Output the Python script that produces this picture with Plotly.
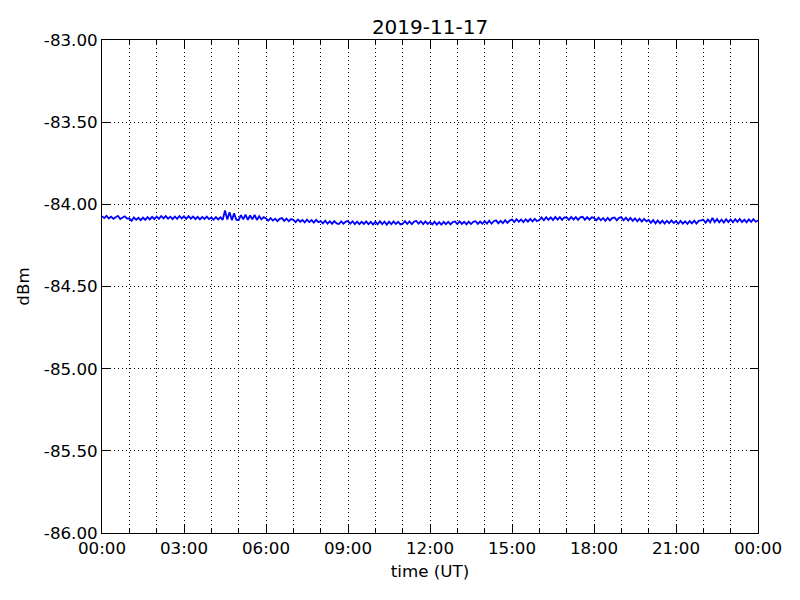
import plotly.graph_objects as go
import pandas as pd

title_text = "2019-11-17"
x_label = "time (UT)"
y_label = "dBm"

# 5-minute samples, one row per hour
hour_rows = [
    [-84.072, -84.084, -84.070, -84.086, -84.075, -84.088, -84.078, -84.070, -84.090, -84.080, -84.073, -84.087],
    [-84.085, -84.100, -84.080, -84.094, -84.082, -84.096, -84.081, -84.095, -84.078, -84.092, -84.076, -84.090],
    [-84.074, -84.088, -84.071, -84.086, -84.072, -84.087, -84.075, -84.090, -84.074, -84.088, -84.071, -84.086],
    [-84.073, -84.088, -84.072, -84.087, -84.074, -84.090, -84.076, -84.092, -84.077, -84.089, -84.075, -84.090],
    [-84.080, -84.093, -84.078, -84.092, -84.079, -84.094, -84.038, -84.092, -84.048, -84.096, -84.055, -84.094],
    [-84.095, -84.066, -84.092, -84.062, -84.094, -84.068, -84.091, -84.064, -84.095, -84.072, -84.092, -84.078],
    [-84.086, -84.100, -84.084, -84.099, -84.087, -84.102, -84.088, -84.084, -84.101, -84.087, -84.103, -84.090],
    [-84.094, -84.108, -84.092, -84.106, -84.095, -84.110, -84.093, -84.108, -84.096, -84.111, -84.095, -84.109],
    [-84.102, -84.116, -84.100, -84.117, -84.103, -84.119, -84.102, -84.116, -84.120, -84.104, -84.118, -84.105],
    [-84.102, -84.118, -84.103, -84.120, -84.105, -84.121, -84.106, -84.119, -84.104, -84.121, -84.107, -84.123],
    [-84.105, -84.122, -84.103, -84.120, -84.105, -84.124, -84.106, -84.121, -84.104, -84.120, -84.106, -84.122],
    [-84.118, -84.102, -84.119, -84.104, -84.121, -84.105, -84.101, -84.118, -84.103, -84.120, -84.104, -84.119],
    [-84.107, -84.122, -84.105, -84.123, -84.108, -84.124, -84.107, -84.121, -84.106, -84.122, -84.108, -84.104],
    [-84.120, -84.104, -84.119, -84.106, -84.122, -84.105, -84.120, -84.107, -84.103, -84.119, -84.105, -84.118],
    [-84.102, -84.117, -84.100, -84.118, -84.103, -84.098, -84.116, -84.100, -84.115, -84.097, -84.113, -84.099],
    [-84.092, -84.108, -84.090, -84.106, -84.092, -84.108, -84.091, -84.105, -84.089, -84.104, -84.088, -84.102],
    [-84.096, -84.080, -84.097, -84.078, -84.094, -84.079, -84.096, -84.077, -84.093, -84.078, -84.095, -84.080],
    [-84.079, -84.094, -84.077, -84.093, -84.078, -84.095, -84.079, -84.076, -84.094, -84.078, -84.093, -84.079],
    [-84.082, -84.098, -84.081, -84.097, -84.083, -84.100, -84.082, -84.098, -84.084, -84.080, -84.097, -84.082],
    [-84.078, -84.097, -84.081, -84.099, -84.083, -84.101, -84.085, -84.103, -84.087, -84.105, -84.088, -84.103],
    [-84.095, -84.113, -84.096, -84.116, -84.098, -84.115, -84.099, -84.117, -84.100, -84.115, -84.098, -84.114],
    [-84.102, -84.118, -84.101, -84.117, -84.103, -84.119, -84.102, -84.116, -84.100, -84.117, -84.101, -84.098],
    [-84.094, -84.112, -84.092, -84.110, -84.082, -84.108, -84.090, -84.109, -84.093, -84.111, -84.091, -84.108],
    [-84.092, -84.109, -84.091, -84.107, -84.089, -84.108, -84.093, -84.110, -84.092, -84.107, -84.090, -84.106],
]
final_value = [-84.099]

y_tick_vals = [-86.0, -85.5, -85.0, -84.5, -84.0, -83.5, -83.0]
y_tick_text = ["-86.00", "-85.50", "-85.00", "-84.50", "-84.00", "-83.50", "-83.00"]

values = [v for row in hour_rows for v in row] + final_value
times = pd.date_range("2019-11-17 00:00", periods=len(values), freq="5min")

font_family = "DejaVu Sans, sans-serif"
grid_dash = "1px,3px"

fig = go.Figure()
fig.add_trace(go.Scatter(x=times, y=values, mode="lines",
                         line=dict(color="#0000ff", width=1.8)))

fig.update_layout(
    width=800, height=600,
    margin=dict(l=102, r=42, t=40, b=67),
    paper_bgcolor="white", plot_bgcolor="white",
    showlegend=False,
    font=dict(family=font_family, size=16.7, color="black"),
    title=dict(text=title_text, xref="paper", x=0.5, xanchor="center",
               yref="container", y=1 - 27 / 600, yanchor="middle",
               font=dict(size=20, family=font_family, color="black")),
)

fig.update_xaxes(
    type="date", automargin=False,
    range=["2019-11-17 00:00", "2019-11-18 00:00"],
    dtick=3 * 3600 * 1000, tick0="2019-11-17 00:00", tickformat="%H:%M",
    ticks="inside", ticklen=8, tickwidth=1, tickcolor="black",
    showline=True, linecolor="black", linewidth=1, mirror="ticks",
    showgrid=True, gridcolor="black", gridwidth=1, griddash=grid_dash,
    zeroline=False,
    minor=dict(dtick=3600 * 1000, tick0="2019-11-17 00:00", ticks="inside", ticklen=4,
               tickcolor="black", showgrid=True, gridcolor="black", gridwidth=1, griddash=grid_dash),
    title=dict(text=x_label, font=dict(size=16.7), standoff=8),
    tickfont=dict(size=16.7),
)

fig.update_yaxes(
    automargin=False,
    range=[-86, -83],
    tickvals=y_tick_vals, ticktext=y_tick_text,
    ticks="inside", ticklen=8, tickwidth=1, tickcolor="black",
    showline=True, linecolor="black", linewidth=1, mirror="ticks",
    showgrid=True, gridcolor="black", gridwidth=1, griddash=grid_dash,
    zeroline=False,
    title=dict(text=y_label, font=dict(size=16.7), standoff=10),
    tickfont=dict(size=16.7),
)

fig.write_html("out.html", config={"displayModeBar": False},
               post_script="document.body.style.margin='0';")
